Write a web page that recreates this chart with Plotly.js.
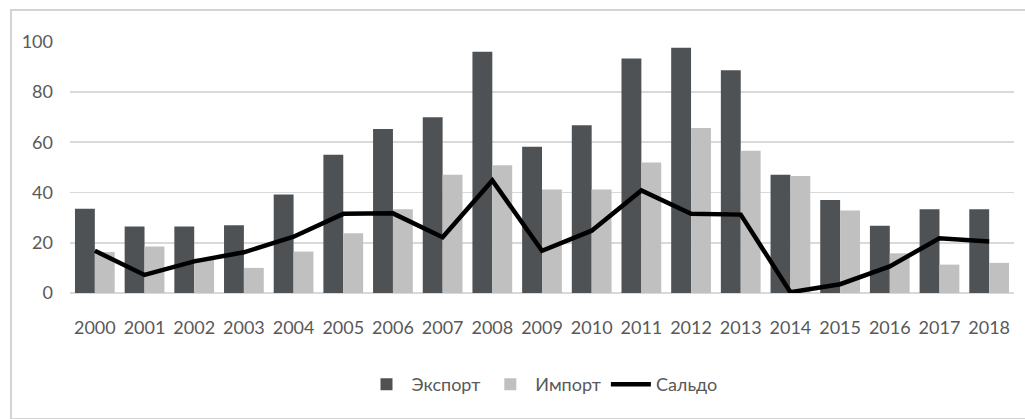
<!DOCTYPE html>
<html>
<head>
<meta charset="utf-8">
<script src="https://cdn.plot.ly/plotly-3.0.1.min.js"></script>
<style>
  html, body { margin: 0; padding: 0; background: #fff; }
  #wrap { position: relative; width: 1025px; height: 419px; overflow: hidden; }
  #chart { position: absolute; left: 0; top: 0; width: 1025px; height: 419px; }
  #frame { position: absolute; left: 10px; top: 9px; width: 1030px; height: 407px;
           border: 2px solid #d4d4d4; pointer-events: none; }
</style>
</head>
<body>
<div id="wrap">
  <div id="chart"></div>
  <div id="frame"></div>
</div>
<script>
const years = ["2000","2001","2002","2003","2004","2005","2006","2007","2008","2009",
               "2010","2011","2012","2013","2014","2015","2016","2017","2018"];
const exportVals = [33.5, 26.5, 26.5, 27, 39.2, 55, 65.3, 70, 96, 58.2,
                    66.8, 93.3, 97.6, 88.7, 47.1, 37, 26.8, 33.3, 33.3];
const importVals = [16.3, 18.5, 13.8, 10, 16.5, 23.8, 33.3, 47.1, 50.8, 41.2,
                    41.2, 51.9, 65.7, 56.6, 46.6, 32.8, 15.8, 11.3, 12];
const saldoVals  = [16.8, 7.2, 12.6, 16.2, 22.4, 31.5, 31.7, 22.2, 44.8, 16.8,
                    24.8, 40.8, 31.5, 31.2, 0.3, 3.5, 10.6, 21.8, 20.5];
const seriesNames = ["Экспорт", "Импорт", "Сальдо"];

const FONT = 'Lato, "Noto Sans", sans-serif';

const data = [
  { type: 'bar', x: years, y: exportVals, name: seriesNames[0],
    marker: { color: '#4f5254' }, hoverinfo: 'x+y' },
  { type: 'bar', x: years, y: importVals, name: seriesNames[1],
    marker: { color: '#c0c0c0' }, hoverinfo: 'x+y' },
  { type: 'scatter', mode: 'lines', x: years, y: saldoVals, name: seriesNames[2],
    line: { color: '#000000', width: 4.5 } }
];

const layout = {
  width: 1025, height: 419,
  margin: { l: 70, r: 11, t: 41, b: 126 },
  paper_bgcolor: '#ffffff', plot_bgcolor: '#ffffff',
  font: { family: FONT, size: 18, color: '#595959' },
  barmode: 'group', bargap: 0.2, bargroupgap: 0,
  showlegend: true,
  legend: { orientation: 'h', x: 0.5, xanchor: 'center', y: -0.29, yanchor: 'top',
            font: { family: FONT, size: 18, color: '#595959' }, itemwidth: 40,
            tracegroupgap: 0 },
  xaxis: { type: 'category', showgrid: false, zeroline: false, showline: false,
           ticks: '', ticklabelstandoff: 22, tickfont: { family: FONT, size: 18, color: '#595959' } },
  yaxis: { range: [0, 100.3], tickvals: [0,20,40,60,80,100], showgrid: true,
           gridcolor: '#d9d9d9', gridwidth: 1.6, zeroline: true, zerolinecolor: '#d9d9d9',
           zerolinewidth: 1.6, showline: false, ticks: '', ticklabelstandoff: 16,
           tickfont: { family: FONT, size: 18, color: '#595959' } }
};

Plotly.newPlot('chart', data, layout, { displayModeBar: false, staticPlot: true });
</script>
</body>
</html>
